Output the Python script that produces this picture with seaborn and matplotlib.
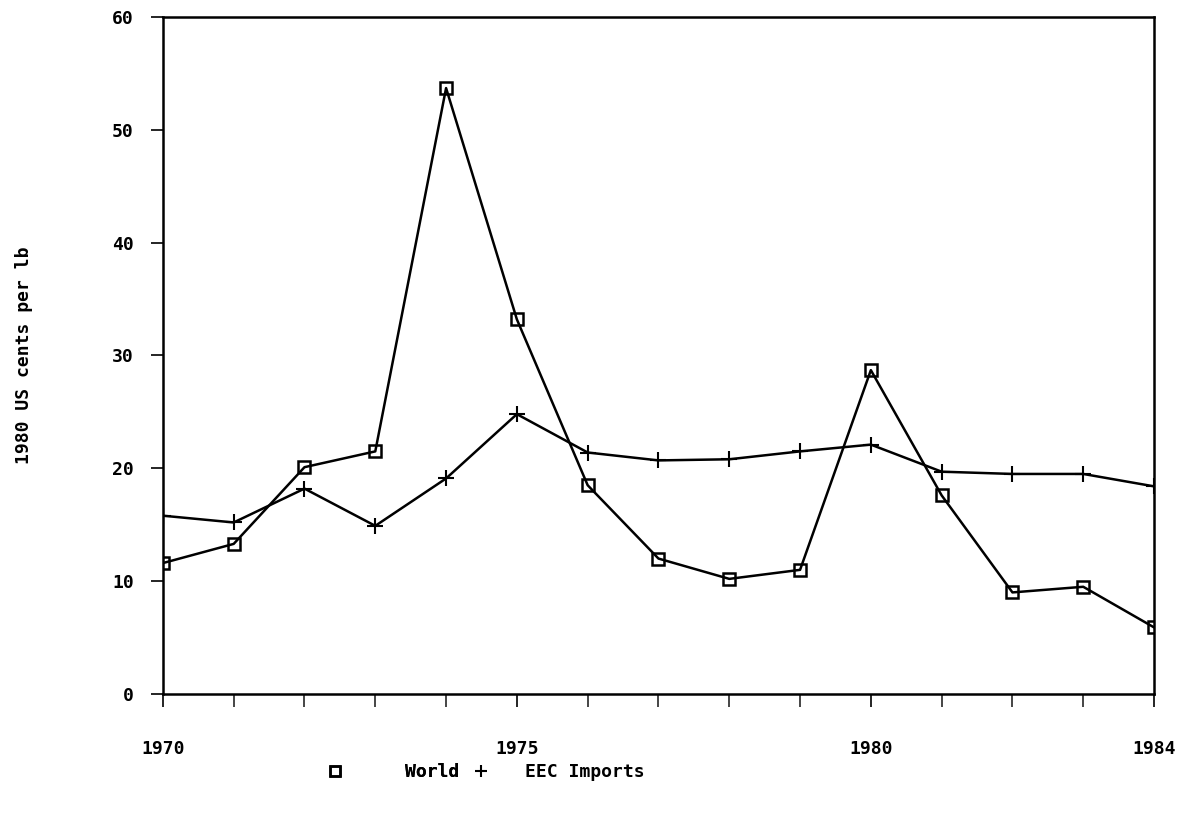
import matplotlib
matplotlib.use("Agg")
import matplotlib.pyplot as plt
import seaborn as sns
import pandas as pd
from matplotlib.ticker import MultipleLocator, FixedLocator
from matplotlib.lines import Line2D

years = list(range(1970, 1985))
world = [11.6, 13.3, 20.1, 21.5, 53.7, 33.2, 18.5, 12.0, 10.2, 11.0, 28.7, 17.6, 9.0, 9.5, 5.9]
eec = [15.8, 15.2, 18.2, 14.9, 19.1, 24.8, 21.4, 20.7, 20.8, 21.5, 22.1, 19.7, 19.5, 19.5, 18.4]
series_names = ["World", "EEC Imports"]
y_label = "1980 US cents per lb"
x_ticklabels = [1970, 1975, 1980, 1984]

sns.set_theme(style="ticks")
plt.rcParams['font.family'] = ['DejaVu Sans Mono', 'DejaVu Sans']
plt.rcParams['text.color'] = 'black'
plt.rcParams['axes.labelcolor'] = 'black'

fig = plt.figure(figsize=(11.89, 8.17), dpi=100)
ax = fig.add_axes([0.137, 0.1506, 0.8336, 0.8286])

df = pd.DataFrame({"year": years, "World": world, "EEC Imports": eec})

sns.lineplot(data=df, x="year", y="World", ax=ax, color="black", linewidth=1.8,
             marker="s", markersize=9, markerfacecolor="none", markeredgecolor="black",
             markeredgewidth=1.8)
sns.lineplot(data=df, x="year", y="EEC Imports", ax=ax, color="black", linewidth=1.8,
             marker="+", markersize=11, markeredgecolor="black", markeredgewidth=1.5)

ax.set_xlim(1970, 1984)
ax.set_ylim(0, 60)
ax.xaxis.set_major_locator(FixedLocator(x_ticklabels))
ax.xaxis.set_minor_locator(MultipleLocator(1))
ax.yaxis.set_major_locator(MultipleLocator(10))
ax.tick_params(axis="both", which="major", direction="out", length=9, width=1.2,
               labelsize=13, colors="black")
ax.tick_params(axis="x", which="major", pad=24)
ax.tick_params(axis="y", which="major", pad=12)
ax.tick_params(axis="x", which="minor", direction="out", length=9, width=1.2)
for lbl in ax.get_xticklabels() + ax.get_yticklabels():
    lbl.set_fontweight("bold")

ax.set_xlabel("")
ax.set_ylabel(y_label, fontsize=13, fontweight="bold", labelpad=57, color="black")
for s in ax.spines.values():
    s.set_visible(True)
    s.set_linewidth(1.8)
    s.set_color("black")

h_world = Line2D([], [], linestyle="none", marker="s", markersize=7, markerfacecolor="none",
                 markeredgecolor="black", markeredgewidth=1.8)
h_eec = Line2D([], [], linestyle="none", marker="+", markersize=9, markeredgecolor="black",
               markeredgewidth=1.5)
common = dict(loc="center left", frameon=False, handlelength=1.0, borderpad=0,
              borderaxespad=0, prop={"weight": "bold", "size": 13}, labelcolor="black")
leg1 = fig.legend([h_world], [series_names[0]], bbox_to_anchor=(0.274, 0.055),
                  handletextpad=3.4, **common)
fig.add_artist(leg1)
fig.legend([h_eec], [series_names[1]], bbox_to_anchor=(0.397, 0.055),
           handletextpad=1.95, **common)

fig.savefig("out.png", dpi=100, facecolor="white")
